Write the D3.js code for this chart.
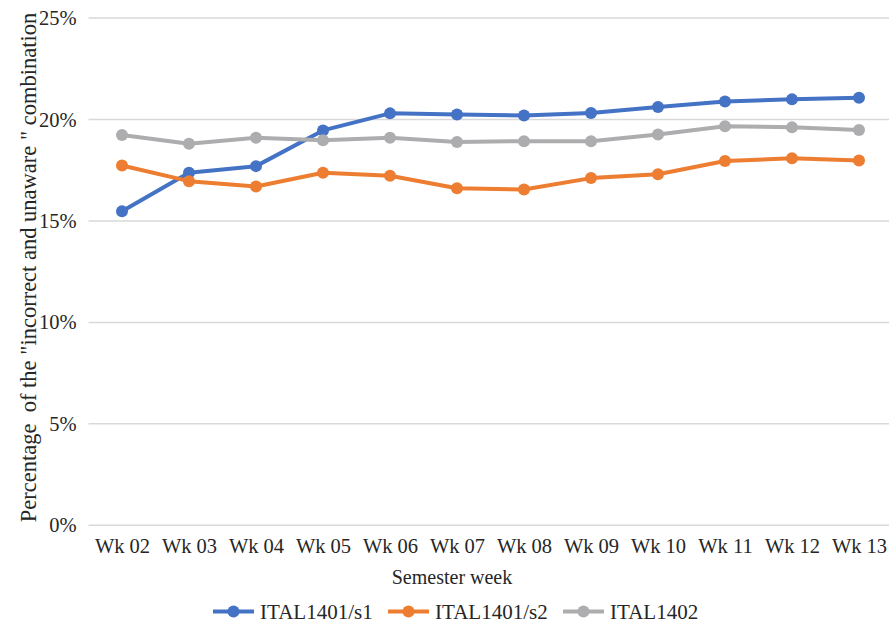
<!DOCTYPE html>
<html>
<head>
<meta charset="utf-8">
<script src="https://cdn.jsdelivr.net/npm/d3@7"></script>
<style>
  html, body { margin: 0; padding: 0; background: #fff; }
  svg { display: block; }
  svg text { font-family: "Liberation Serif", "Times New Roman", serif; white-space: pre; }
</style>
</head>
<body>
<svg id="chart" width="889" height="624"></svg>
<script>
// Semester weeks on the x axis
const weeks = ["Wk 02", "Wk 03", "Wk 04", "Wk 05", "Wk 06", "Wk 07", "Wk 08", "Wk 09", "Wk 10", "Wk 11", "Wk 12", "Wk 13"];

// Share of "incorrect and unaware" answers per course (percent)
const ital1401s1 = [15.48, 17.37, 17.70, 19.46, 20.30, 20.25, 20.19, 20.32, 20.61, 20.89, 20.99, 21.07];
const ital1401s2 = [17.73, 16.96, 16.70, 17.37, 17.23, 16.61, 16.55, 17.11, 17.30, 17.95, 18.09, 17.98];
const ital1402   = [19.23, 18.80, 19.10, 18.97, 19.10, 18.89, 18.93, 18.93, 19.26, 19.67, 19.61, 19.48];

const yTicks = [0, 5, 10, 15, 20, 25];

const seriesNames = ["ITAL1401/s1", "ITAL1401/s2", "ITAL1402"];
const seriesColors = ["#4472C4", "#ED7D31", "#ADADAF"];
const series = [ital1401s1, ital1401s2, ital1402].map((vals, i) => ({
  name: seriesNames[i], color: seriesColors[i], values: vals
}));

const FONT = '"Liberation Serif", "Times New Roman", serif';
const FS = 20.5;
const TXT = "#262626";

const svg = d3.select("#chart");
const plotLeft = 88.5, plotRight = 892.5, plotTop = 18, plotBottom = 525.3;

const x = d3.scalePoint().domain(weeks).range([plotLeft, plotRight]).padding(0.5);
const y = d3.scaleLinear().domain([0, 25]).range([plotBottom, plotTop]);

// Horizontal gridlines
svg.append("g")
  .selectAll("line")
  .data(yTicks)
  .join("line")
  .attr("x1", plotLeft).attr("x2", 889)
  .attr("y1", d => y(d)).attr("y2", d => y(d))
  .attr("stroke", "#d9d9d9").attr("stroke-width", 1.5);

// Y axis labels
const yAxis = d3.axisLeft(y).tickValues(yTicks).tickFormat(d => d + "%").tickSize(0).tickPadding(12);
const yg = svg.append("g").attr("transform", `translate(${plotLeft},0)`).call(yAxis)
  .attr("font-family", FONT).attr("font-size", FS);
yg.select(".domain").remove();
yg.selectAll("text").attr("fill", TXT).style("font-family", FONT).style("font-size", FS + "px");

// X axis labels
const xAxis = d3.axisBottom(x).tickSize(0).tickPadding(13);
const xg = svg.append("g").attr("transform", `translate(0,${plotBottom})`).call(xAxis)
  .attr("font-family", FONT).attr("font-size", FS);
xg.select(".domain").remove();
xg.selectAll("text").attr("fill", TXT).style("font-family", FONT).style("font-size", FS + "px");

// Axis titles
svg.append("text")
  .attr("x", 452).attr("y", 584)
  .attr("text-anchor", "middle")
  .style("font-family", FONT).style("font-size", "20px").attr("fill", TXT)
  .text("Semester week");

svg.append("text")
  .attr("transform", "translate(36,267.5) rotate(-90)")
  .attr("text-anchor", "middle")
  .style("font-family", FONT).style("font-size", "22.5px").attr("fill", TXT)
  .text('Percentage  of the "incorrect and unaware " combination');

// Lines and markers
const line = d3.line().x((d, i) => x(weeks[i])).y(d => y(d));
const g = svg.append("g");
series.forEach(s => {
  g.append("path")
    .datum(s.values)
    .attr("d", line)
    .attr("fill", "none")
    .attr("stroke", s.color)
    .attr("stroke-width", 4)
    .attr("stroke-linejoin", "round");
  g.append("g")
    .selectAll("circle")
    .data(s.values)
    .join("circle")
    .attr("cx", (d, i) => x(weeks[i]))
    .attr("cy", d => y(d))
    .attr("r", 6)
    .attr("fill", s.color);
});

// Legend
const legendX = [213, 388, 563];
const legendY = 611.5;
const lg = svg.append("g");
series.forEach((s, i) => {
  const lx = legendX[i];
  lg.append("line")
    .attr("x1", lx).attr("x2", lx + 41)
    .attr("y1", legendY).attr("y2", legendY)
    .attr("stroke", s.color).attr("stroke-width", 4);
  lg.append("circle")
    .attr("cx", lx + 20.5).attr("cy", legendY).attr("r", 6)
    .attr("fill", s.color);
  lg.append("text")
    .attr("x", lx + 47).attr("y", legendY + 7)
    .style("font-family", FONT).style("font-size", "21px").attr("fill", TXT)
    .text(s.name);
});
</script>
</body>
</html>
